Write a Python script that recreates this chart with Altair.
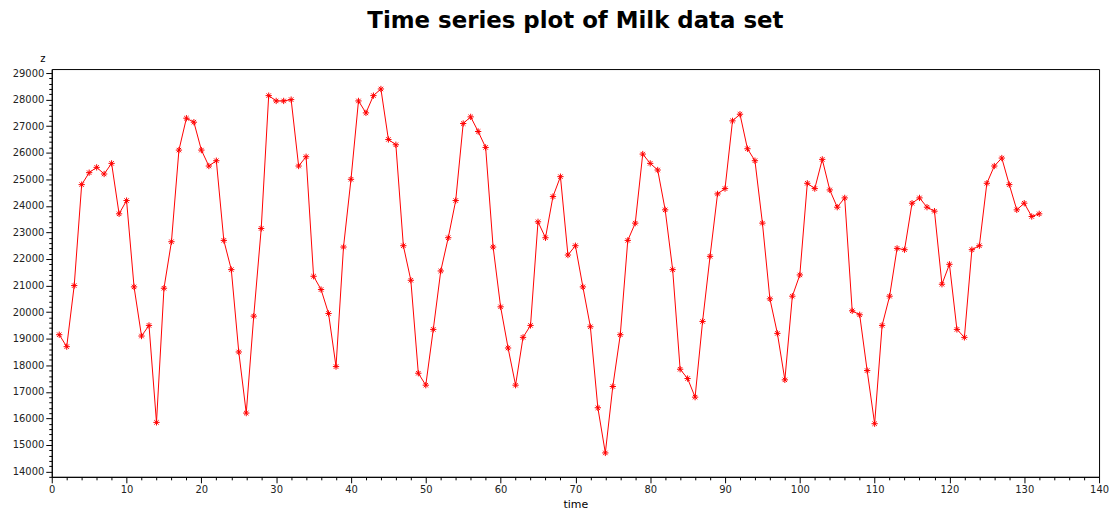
import altair as alt
import pandas as pd

time = list(range(1, 133))
z = [19150, 18700, 21000, 24800, 25250, 25450, 25200, 25600, 23700, 24200,
     20950, 19100, 19500, 15850, 20900, 22650, 26100, 27300, 27150, 26100,
     25500, 25700, 22700, 21600, 18500, 16200, 19850, 23150, 28150, 27950,
     27950, 28000, 25500, 25850, 21350, 20850, 19950, 17950, 22450, 25000,
     27950, 27500, 28150, 28400, 26500, 26300, 22500, 21200, 17700, 17250,
     19350, 21550, 22800, 24200, 27100, 27350, 26800, 26200, 22450, 20200,
     18650, 17250, 19050, 19500, 23400, 22800, 24350, 25100, 22150, 22500,
     20950, 19450, 16400, 14700, 17200, 19150, 22700, 23350, 25950, 25600,
     25350, 23850, 21600, 17850, 17500, 16800, 19650, 22100, 24450, 24650,
     27200, 27450, 26150, 25700, 23350, 20500, 19200, 17450, 20600, 21400,
     24850, 24650, 25750, 24600, 23950, 24300, 20050, 19900, 17800, 15800,
     19500, 20600, 22400, 22350, 24100, 24300, 23950, 23800, 21050, 21800,
     19350, 19050, 22350, 22500, 24850, 25500, 25800, 24800, 23850, 24100,
     23600, 23700]

df = pd.DataFrame({"time": time, "z": z})

xvals = list(range(0, 141, 2))
yvals = list(range(13800, 29201, 200))

x = alt.X("time:Q", scale=alt.Scale(domain=[0, 140], nice=False),
          axis=alt.Axis(values=xvals, title="time", grid=False, labelOverlap=False,
                        labelFlush=False,
                        labelExpr="datum.value % 10 === 0 ? datum.label : ''",
                        tickSize={"condition": {"test": "datum.value % 10 === 0", "value": 6}, "value": 3},
                        labelFont="DejaVu Sans", labelFontSize=10, titleFont="DejaVu Sans",
                        titleFontSize=11, titleFontWeight="normal", titlePadding=4,
                        domainColor="black", tickColor="black", labelColor="#222"))
y = alt.Y("z:Q", scale=alt.Scale(domain=[13800, 29150], nice=False, zero=False),
          axis=alt.Axis(values=yvals, title="z", grid=False, format="d", labelOverlap=False,
                        labelFlush=False,
                        labelExpr="datum.value % 1000 === 0 ? datum.label : ''",
                        tickSize={"condition": {"test": "datum.value % 1000 === 0", "value": 6}, "value": 3},
                        labelFont="DejaVu Sans", labelFontSize=10, titleFont="DejaVu Sans",
                        titleFontSize=10, titleFontWeight="normal", titleAngle=0,
                        titleX=-12, titleY=-6, titleAlign="left",
                        domainColor="black", tickColor="black", labelColor="#222"))

base = alt.Chart(df).encode(x=x, y=y)
line = base.mark_line(color="red", strokeWidth=1)
pts = base.mark_point(
    shape="M-1,0L1,0M0,-1L0,1M-0.7,-0.7L0.7,0.7M-0.7,0.7L0.7,-0.7",
    size=40, color="red", strokeWidth=1, filled=False, opacity=1
)

chart = (line + pts).properties(
    width=1053, height=410,
    title=alt.TitleParams("Time series plot of Milk data set", font="DejaVu Sans",
                          fontSize=23, fontWeight="bold", color="black", offset=20),
    autosize=alt.AutoSizeParams(type="none"),
    padding={"left": 44, "top": 60, "right": 10, "bottom": 40},
).configure_view(stroke="black", strokeWidth=1)

chart.save("out.html", embed_options={"renderer": "svg", "actions": False})
